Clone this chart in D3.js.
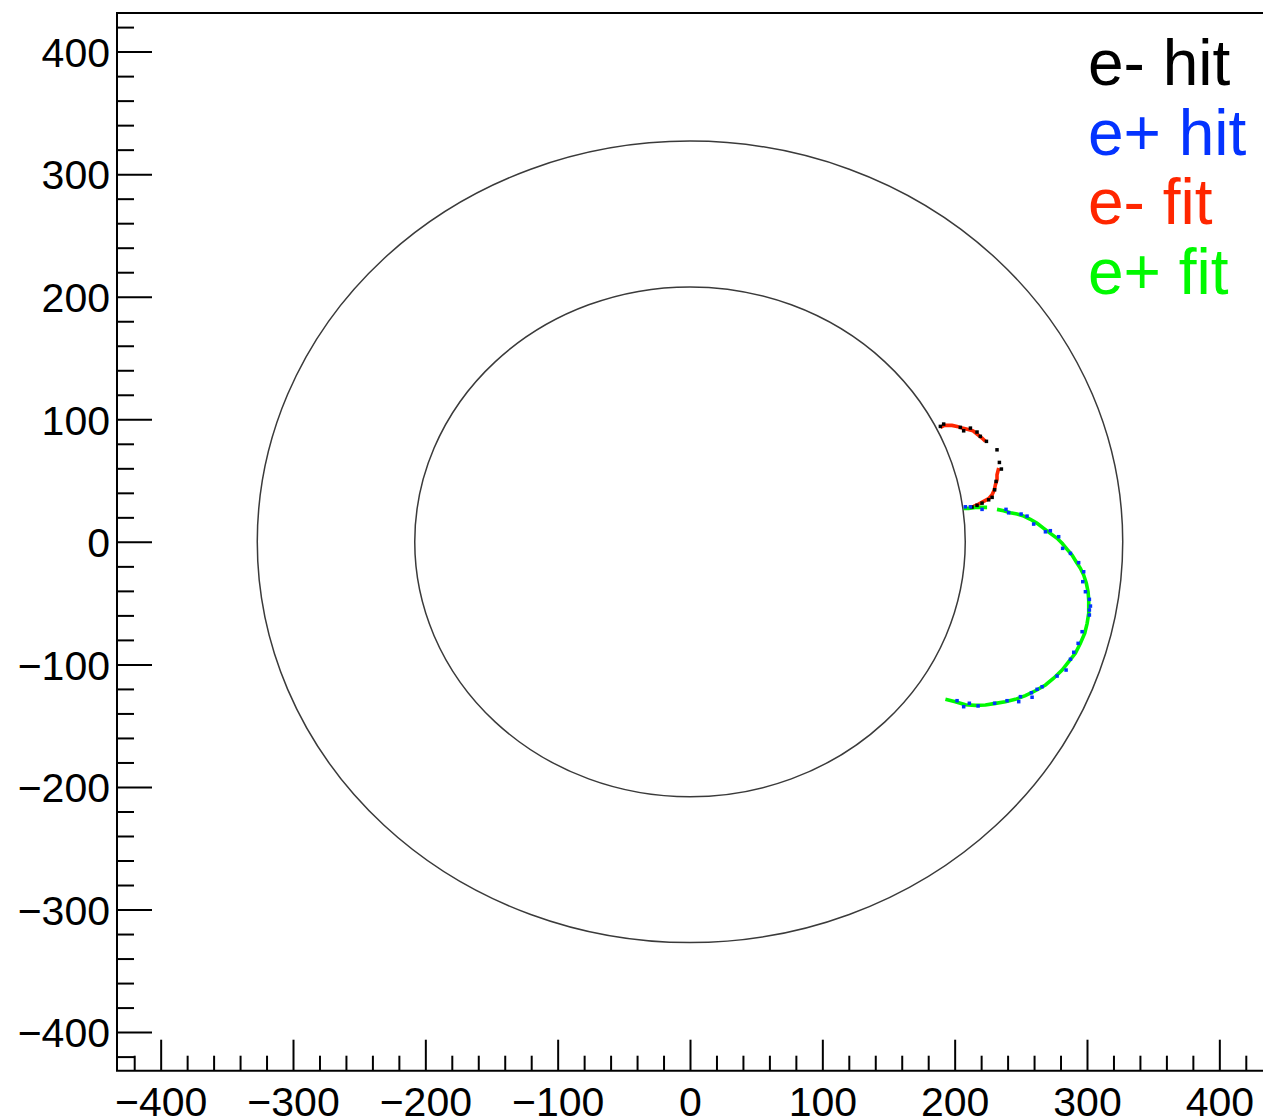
<!DOCTYPE html>
<html>
<head>
<meta charset="utf-8">
<script src="https://cdn.jsdelivr.net/npm/d3@7"></script>
<style>
  body { margin: 0; background: #fff; }
  svg { display: block; font-family: "Liberation Sans", Arial, Helvetica, sans-serif; }
</style>
</head>
<body>
<svg id="chart" width="1263" height="1117"></svg>
<script>
// axis ticks
const majorTicks = [-400, -300, -200, -100, 0, 100, 200, 300, 400];
const minorTicks = [-420, -380, -360, -340, -320, -280, -260, -240, -220, -180, -160, -140, -120,
  -80, -60, -40, -20, 20, 40, 60, 80, 120, 140, 160, 180, 220, 240, 260, 280, 320, 340, 360, 380, 420];

// detector boundary radii
const detectorRadii = [208, 327];

// e- hits (x, y)
const eMinusHits = [
  [191.7, 96.1], [189.2, 94.2], [204.3, 93.4], [206.8, 90.6], [211.9, 92.8], [216.9, 89.6],
  [219.4, 86.1], [224.0, 82.0], [232.0, 75.1], [233.8, 64.8], [235.3, 59.4], [231.3, 49.3],
  [230.2, 42.5], [228.3, 36.3], [225.7, 34.3], [220.7, 31.6], [216.9, 29.8], [213.1, 28.4]
];

// e+ hits (x, y)
const ePlusHits = [
  [208.1, 28.6], [211.9, 28.6], [220.7, 26.5], [238.8, 26.5], [240.8, 23.7], [250.2, 22.7],
  [254.7, 21.0], [259.7, 14.5], [268.6, 8.2], [272.3, 9.1], [278.6, 4.2], [281.6, -5.3],
  [287.5, -9.4], [293.7, -17.0], [297.5, -24.4], [296.8, -32.5], [298.8, -40.7], [301.8, -46.9],
  [302.6, -52.4], [301.8, -55.6], [301.8, -59.7], [296.3, -73.3], [293.3, -82.8], [290.0, -90.1],
  [287.5, -95.8], [284.2, -104.6], [277.4, -109.5], [266.1, -118.2], [262.3, -120.3], [258.0, -123.1],
  [258.5, -126.8], [249.7, -126.3], [248.4, -130.4], [239.6, -129.6], [230.2, -131.7], [217.7, -133.9],
  [211.1, -131.7], [206.8, -134.5], [201.8, -129.6]
];

// e- fit, split where the fitted track has gaps
const eMinusFit = [
  [[189.2, 93.4], [192.2, 95.0], [195.5, 95.0], [198.0, 95.0], [201.8, 94.2], [205.6, 92.8],
   [208.8, 92.0], [213.9, 90.6], [216.9, 87.9], [220.7, 84.7], [223.2, 82.0]],
  [[233.3, 60.2], [232.0, 54.7], [232.0, 50.7], [230.8, 46.6], [230.0, 42.5], [228.3, 38.4],
   [225.7, 35.2], [221.9, 33.0], [218.1, 30.8], [214.4, 28.9], [211.9, 28.1]]
];

// e+ fit
const ePlusFit = [
  [[206.8, 27.3], [210.6, 27.3], [215.6, 28.1], [220.7, 28.1], [224.5, 28.1]],
  [[232.0, 26.5], [237.0, 25.4], [242.1, 23.7], [247.2, 22.7], [252.2, 21.0], [257.2, 18.4],
   [262.3, 15.1], [267.3, 11.0], [272.3, 6.9], [277.4, 2.9], [281.2, -1.2], [285.0, -6.1],
   [288.7, -10.8], [291.8, -16.2], [295.0, -21.6], [297.5, -27.1], [299.5, -33.8], [300.8, -40.7],
   [301.3, -47.5], [301.3, -58.3], [300.1, -66.5], [298.3, -74.6], [295.0, -82.8], [291.2, -90.9],
   [286.2, -97.8], [281.2, -104.6], [274.8, -111.3], [268.6, -116.8], [261.0, -121.5], [253.4, -125.5],
   [245.9, -128.5], [238.3, -130.5], [230.8, -131.8], [223.2, -133.1], [215.6, -133.4], [208.1, -132.9],
   [200.5, -130.4], [193.0, -128.5]]
];

const legendLabels = ["e- hit", "e+ hit", "e- fit", "e+ fit"];
const legendColors = ["#000000", "#0433ff", "#ff2600", "#00f900"];

const svg = d3.select("#chart");

const x = d3.scaleLinear().domain([-433, 433]).range([117, 1263]);
const y = d3.scaleLinear().domain([-431.5, 431.5]).range([1070.7, 13]);

const fmt = d3.format("d");

// detector circles
svg.selectAll("ellipse.det")
  .data(detectorRadii)
  .enter()
  .append("ellipse")
  .attr("class", "det")
  .attr("cx", x(0))
  .attr("cy", y(0))
  .attr("rx", r => x(r) - x(0))
  .attr("ry", r => y(0) - y(r))
  .attr("fill", "none")
  .attr("stroke", "#3a3a3a")
  .attr("stroke-width", 1.5);

// fits drawn first, hits on top
const line = d3.line().x(d => x(d[0])).y(d => y(d[1]));

function drawFit(segments, color) {
  svg.append("g").selectAll("path")
    .data(segments)
    .enter()
    .append("path")
    .attr("d", line)
    .attr("fill", "none")
    .attr("stroke", color)
    .attr("stroke-width", 3.6);
}

function drawHits(points, color) {
  svg.append("g").selectAll("rect")
    .data(points)
    .enter()
    .append("rect")
    .attr("x", d => x(d[0]) - 1.75)
    .attr("y", d => y(d[1]) - 1.75)
    .attr("width", 3.5)
    .attr("height", 3.5)
    .attr("fill", color);
}

drawFit(eMinusFit, legendColors[2]);
drawFit(ePlusFit, legendColors[3]);
drawHits(eMinusHits, legendColors[0]);
drawHits(ePlusHits, legendColors[1]);

// x axis
const xMajor = svg.append("g")
  .attr("transform", `translate(0,${y.range()[0]})`)
  .call(d3.axisBottom(x).tickValues(majorTicks).tickSize(-31).tickSizeOuter(0)
    .tickPadding(16).tickFormat(fmt));
svg.append("g")
  .attr("transform", `translate(0,${y.range()[0]})`)
  .call(d3.axisBottom(x).tickValues(minorTicks).tickSize(-15).tickSizeOuter(0).tickFormat(""));

// y axis
const yMajor = svg.append("g")
  .attr("transform", `translate(${x.range()[0]},0)`)
  .call(d3.axisLeft(y).tickValues(majorTicks).tickSize(-35).tickSizeOuter(0)
    .tickPadding(7).tickFormat(fmt));
svg.append("g")
  .attr("transform", `translate(${x.range()[0]},0)`)
  .call(d3.axisLeft(y).tickValues(minorTicks).tickSize(-17).tickSizeOuter(0).tickFormat(""));

svg.selectAll(".domain").remove();
svg.selectAll(".tick line").attr("stroke", "#000").attr("stroke-width", 2);
svg.selectAll(".tick text").attr("font-size", 41).attr("fill", "#000")
  .attr("font-family", "'Liberation Sans', Arial, Helvetica, sans-serif");
yMajor.selectAll(".tick text").attr("dy", "0.36em");

// frame
svg.append("path")
  .attr("d", `M${x.range()[1] + 1},${y.range()[1]} H${x.range()[0]} V${y.range()[0]} H${x.range()[1] + 1}`)
  .attr("fill", "none")
  .attr("stroke", "#000")
  .attr("stroke-width", 2);

// legend
svg.append("g").selectAll("text")
  .data(legendLabels)
  .enter()
  .append("text")
  .attr("x", 1088)
  .attr("y", (d, i) => 85 + i * 69.7)
  .attr("font-size", 64)
  .attr("fill", (d, i) => legendColors[i])
  .text(d => d);
</script>
</body>
</html>
